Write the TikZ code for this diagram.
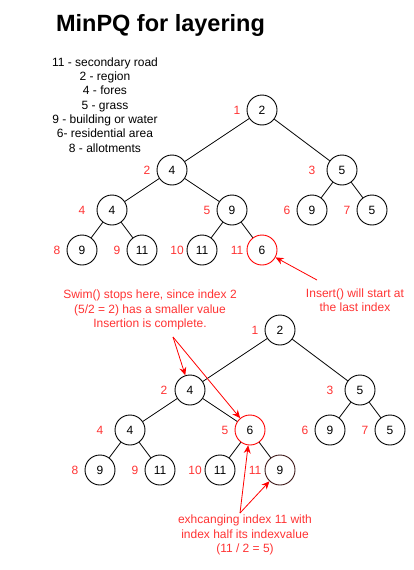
\documentclass[tikz,border=0pt]{standalone}
\usepackage{fontspec}
\setmainfont{Liberation Sans}
\usetikzlibrary{arrows.meta}
\definecolor{redtxt}{HTML}{FF3333}
\definecolor{redline}{HTML}{FF0000}
\definecolor{darkred}{HTML}{3A1515}
\tikzset{
  hnode/.style={circle,draw=black,line width=0.9pt,minimum size=30pt,inner sep=0pt,font=\fontsize{12}{14}\selectfont},
  rednode/.style={hnode,draw=redline},
  dnode/.style={hnode,draw=darkred},
  idx/.style={text=redtxt,font=\fontsize{12}{14}\selectfont,inner sep=0pt},
  edge/.style={draw=black,line width=0.8pt},
  redarrow/.style={draw=redline,line width=0.8pt,-{Stealth[length=8pt,width=7pt]}},
  note/.style={text=redtxt,align=center,inner sep=0pt,font=\fontsize{12}{14.5}\selectfont},
}
\begin{document}
\begin{tikzpicture}[x=1pt,y=-1pt]
\useasboundingbox (0,0) rectangle (413,570);
\node[font=\bfseries\fontsize{23.5}{26}\selectfont,inner sep=0pt] (title) at (160.5,25) {MinPQ for layering};
\node[align=center,inner sep=0pt,font=\fontsize{12}{14.3}\selectfont] (legend) at (105,105) {11 - secondary road\\2 - region\\4 - fores\\5 - grass\\9 - building or water\\6- residential area\\8 - allotments};

% Tree 1
\node[hnode] (a1) at (262,110) {2};
\node[hnode] (a2) at (172,170) {4};
\node[hnode] (a3) at (342,170) {5};
\node[hnode] (a4) at (112,210) {4};
\node[hnode] (a5) at (232,210) {9};
\node[hnode] (a6) at (312,210) {9};
\node[hnode] (a7) at (372,210) {5};
\node[hnode] (a8) at (82,250) {9};
\node[hnode] (a9) at (142,250) {11};
\node[hnode] (a10) at (202,250) {11};
\node[rednode] (a11) at (262,250) {6};
\node[idx] (la1) at (237,110) {1};
\node[idx] (la2) at (147,170) {2};
\node[idx] (la3) at (312,170) {3};
\node[idx] (la4) at (82,210) {4};
\node[idx] (la5) at (207,210) {5};
\node[idx] (la6) at (287,210) {6};
\node[idx] (la7) at (347,210) {7};
\node[idx] (la8) at (57,250) {8};
\node[idx] (la9) at (117,250) {9};
\node[idx] (la10) at (177,250) {10};
\node[idx] (la11) at (237,250) {11};
\draw[edge] (a1) -- (a2);
\draw[edge] (a1) -- (a3);
\draw[edge] (a2) -- (a4);
\draw[edge] (a2) -- (a5);
\draw[edge] (a3) -- (a6);
\draw[edge] (a3) -- (a7);
\draw[edge] (a4) -- (a8);
\draw[edge] (a4) -- (a9);
\draw[edge] (a5) -- (a10);
\draw[edge] (a5) -- (a11);

\node[note] (ins) at (355,300) {Insert() will start at\\the last index};
\coordinate (insA) at (317,280);
\draw[redarrow] (insA) -- (a11);

\node[note] (swim) at (150,310) {Swim() stops here, since index 2\\(5/2 = 2) has a smaller value\\Insertion is complete.};

% Tree 2
\node[hnode] (b1) at (280,330) {2};
\node[hnode] (b2) at (190,390) {4};
\node[hnode] (b3) at (360,390) {5};
\node[hnode] (b4) at (130,430) {4};
\node[rednode] (b5) at (250,430) {6};
\node[hnode] (b6) at (330,430) {9};
\node[hnode] (b7) at (390,430) {5};
\node[hnode] (b8) at (100,470) {9};
\node[hnode] (b9) at (160,470) {11};
\node[hnode] (b10) at (220,470) {11};
\node[dnode] (b11) at (280,470) {9};
\node[idx] (lb1) at (255,330) {1};
\node[idx] (lb2) at (164,390) {2};
\node[idx] (lb3) at (330,390) {3};
\node[idx] (lb4) at (100,430) {4};
\node[idx] (lb5) at (225,430) {5};
\node[idx] (lb6) at (305,430) {6};
\node[idx] (lb7) at (365,430) {7};
\node[idx] (lb8) at (75,470) {8};
\node[idx] (lb9) at (135,470) {9};
\node[idx] (lb10) at (195,470) {10};
\node[idx] (lb11) at (255,470) {11};
\draw[edge] (b1) -- (b2);
\draw[edge] (b1) -- (b3);
\draw[edge] (b2) -- (b4);
\draw[edge] (b2) -- (b5);
\draw[edge] (b3) -- (b6);
\draw[edge] (b3) -- (b7);
\draw[edge] (b4) -- (b8);
\draw[edge] (b4) -- (b9);
\draw[edge] (b5) -- (b10);
\draw[edge] (b5) -- (b11);

\coordinate (swA) at (173,337);
\draw[redarrow] (swA) -- (b2);
\draw[redarrow] (swA) -- (b5);

\node[note,font=\fontsize{12}{14.3}\selectfont] (exch) at (245,535) {exhcanging index 11 with\\index half its indexvalue\\(11 / 2 = 5)};
\coordinate (exA) at (240,513);
\draw[redarrow] (exA) -- (b5);
\draw[redarrow] (exA) -- (b11);
\end{tikzpicture}
\end{document}
